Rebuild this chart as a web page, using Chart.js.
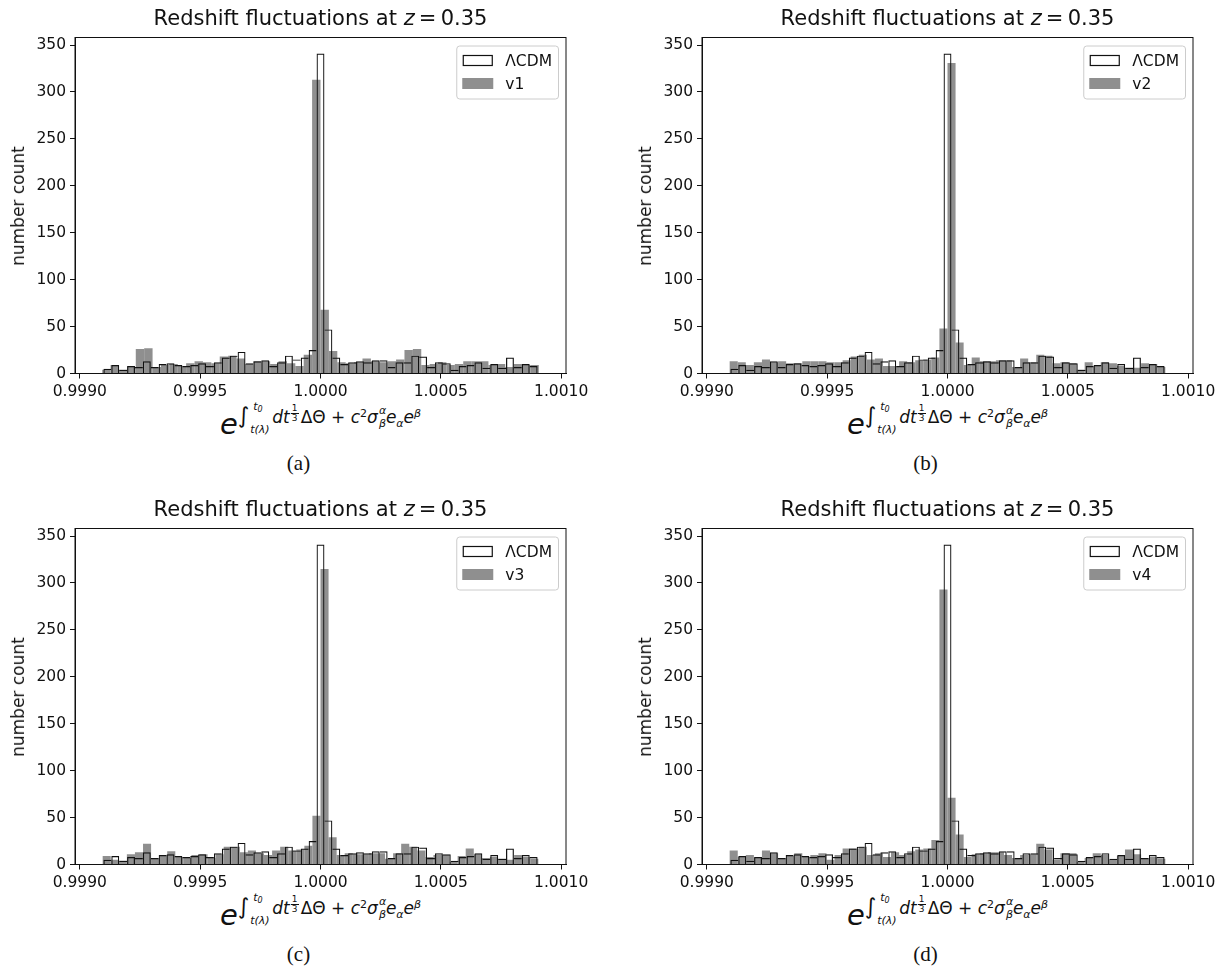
<!DOCTYPE html>
<html>
<head>
<meta charset="utf-8">
<script src="https://cdn.jsdelivr.net/npm/chart.js@4.4.1/dist/chart.umd.min.js"></script>
<style>
    body {
        margin: 0;
        background: #fff;
        width: 1229px;
        height: 968px;
        position: relative;
        overflow: hidden;
        font-family: 'DejaVu Sans', sans-serif;
        color: #111;
    }
    .panel { position: absolute; width: 600px; height: 477px; }
    .panel canvas { position: absolute; left: 0; top: 0; }
    .title {
        position: absolute; left: 75px; width: 491px; top: 5px;
        text-align: center; font-size: 21px; line-height: 26px; white-space: nowrap;
    }
    .ylab {
        position: absolute; left: 18px; top: 205.5px;
        transform: translate(-50%, -50%) rotate(-90deg);
        font-size: 17px; white-space: nowrap;
    }
    .xlab {
        position: absolute; left: 75px; width: 491px; top: 404px;
        text-align: center; white-space: nowrap; font-size: 29px; line-height: 40px;
    }
    .cap {
        position: absolute; left: 0; width: 597px; top: 451px; text-align: center;
        font-family: 'Liberation Serif', serif; font-size: 21px; line-height: 24px;
    }
    .mb { font-style: italic; }
    .mx { font-size: 17px; position: relative; top: -11px; }
    .mi { font-size: 22px; }
    .ml { display: inline-block; position: relative; width: 23px; height: 1px; }
    .ml span { position: absolute; font-size: 11px; line-height: 11px; font-style: italic; white-space: nowrap; }
    .ml .u { left: 4px; top: -21px; }
    .ml .d { left: 1px; top: 2px; }
    .ml sub { font-size: 8px; vertical-align: -2px; }
    .mf { display: inline-block; position: relative; width: 8px; height: 1px; margin: 0 2px 0 1px; }
    .mf span { position: absolute; left: 0; width: 8px; text-align: center; font-size: 9px; line-height: 9px; }
    .mf .n { top: -18px; border-bottom: 1px solid #111; }
    .mf .d { top: -8px; }
    .sp { font-size: 11px; vertical-align: 6px; }
    .sb { font-size: 11px; vertical-align: -4px; }
    .ms { display: inline-block; position: relative; width: 8px; height: 1px; }
    .ms i { position: absolute; left: 1px; font-size: 11px; line-height: 11px; }
    .ms .u { top: -17px; }
    .ms .d { top: -4px; }
</style>
</head>
<body>

<script>

// DATA
const xMin = 0.99898;
const xMax = 1.00102;
const xStep = 0.0005;
const yMax = 358.05;
const yStep = 50;

// LCDM histogram, 55 bins over 1 +/- lcdmHalfRange
const lcdmCounts = [
    5, 9, 4, 8, 7, 13, 7, 10, 11, 9, 8, 9, 11, 8, 12, 17, 19, 23, 11, 13,
    14, 8, 12, 19, 15, 17, 25, 341, 47, 17, 10, 12, 13, 12, 14, 14, 7, 12,
    12, 19, 18, 7, 12, 11, 4, 8, 9, 12, 6, 10, 6, 17, 7, 10, 8
];
const lcdmHalfRange = 0.000902;

const v1Counts = [
    4, 9, 4, 7, 26, 27, 7, 9, 10, 8, 11, 13, 12, 11, 18, 19, 16, 10, 13, 13,
    10, 13, 11, 8, 20, 313, 68, 24, 12, 11, 12, 16, 13, 12, 13, 15, 25, 26,
    9, 10, 12, 9, 10, 13, 13, 13, 9, 10, 7, 10, 9, 9
];

const v2Counts = [
    13, 12, 9, 12, 15, 12, 13, 11, 11, 13, 13, 13, 12, 12, 14, 18, 20, 15,
    16, 8, 8, 13, 12, 14, 15, 17, 48, 331, 33, 9, 17, 13, 13, 14, 14, 7, 16,
    12, 20, 19, 11, 12, 11, 4, 12, 8, 12, 11, 8, 6, 6, 11, 10, 7
];

const v3Counts = [
    9, 5, 4, 11, 13, 22, 7, 10, 14, 8, 7, 10, 11, 7, 11, 19, 19, 13, 15, 12,
    10, 15, 19, 15, 16, 20, 52, 315, 29, 10, 12, 11, 11, 12, 12, 6, 12, 22,
    19, 15, 8, 10, 10, 3, 9, 17, 11, 7, 8, 6, 5, 10, 8, 6
];

const v4Counts = [
    15, 8, 10, 7, 15, 12, 7, 9, 12, 8, 10, 12, 5, 10, 17, 17, 19, 10, 12, 8,
    13, 10, 14, 16, 17, 26, 293, 71, 32, 8, 11, 12, 13, 13, 10, 7, 10, 11,
    22, 16, 5, 12, 12, 3, 7, 12, 10, 5, 9, 16, 11, 6, 8, 6
];

const seriesNames = ['v1', 'v2', 'v3', 'v4'];
const seriesCounts = [v1Counts, v2Counts, v3Counts, v4Counts];
const seriesHalfRanges = [0.000907, 0.000905, 0.000905, 0.000905];
const captions = ['(a)', '(b)', '(c)', '(d)'];


// plot box inside each 600x400 canvas
const plotLeft = 75;
const plotRight = 566;
const plotTop = 37.5;
const plotBottom = 373.5;

// bins of equal width centred on 1
function binPoints(counts, half) {

    const w = 2 * half / counts.length;

    return counts.map((c, i) => ({
        x: 1 - half + (i + 0.5) * w,
        y: c
    }));
}

// bin width converted to pixels of the x scale
function binPixels(counts, half) {

    const w = 2 * half / counts.length;

    return w / (xMax - xMin) * (plotRight - plotLeft);
}

// each shared edge drawn once, by the taller bar
function outlineWidth(counts, bw) {

    return ctx => {

        const i = ctx.dataIndex;
        const last = counts.length - 1;

        return {
            top: bw,
            bottom: 0,
            left: (i === 0 || counts[i] > counts[i - 1]) ? bw : 0,
            right: (i === last || counts[i] >= counts[i + 1]) ? bw : 0
        };
    };
}

const greyFill = 'rgba(128,128,128,0.88)';
const ink = '#111';

// FRAME
const frame = {
    id: 'frame',
    afterDatasetsDraw(chart) {
        const { ctx, chartArea: a } = chart;
        ctx.save();
        ctx.strokeStyle = ink;
        ctx.lineWidth = 1;
        ctx.strokeRect(a.left, a.top, a.right - a.left, a.bottom - a.top);
        ctx.restore();
    }
};

// LEGEND
const legendBox = {
    id: 'legendBox',
    afterDraw(chart) {

        const { ctx, chartArea: a } = chart;
        const sets = chart.data.datasets;

        ctx.save();
        ctx.font = '15.5px "DejaVu Sans"';

        const textW = Math.max(...sets.map(s => ctx.measureText(s.label).width));
        const pad = 6, handle = 31, gap = 12, row = 23;
        const w = pad + handle + gap + textW + pad;
        const h = pad * 2 + row * sets.length - 5;
        const x = a.right - 8 - w;
        const y = a.top + 8;

        ctx.beginPath();
        ctx.roundRect(x + 0.5, y + 0.5, w, h, 3);
        ctx.fillStyle = 'rgba(255,255,255,0.8)';
        ctx.fill();
        ctx.strokeStyle = '#cccccc';
        ctx.lineWidth = 1;
        ctx.stroke();

        sets.forEach((s, i) => {

            const cy = y + pad + 9 + i * row;

            if (s.backgroundColor === 'rgba(0,0,0,0)') {
                ctx.fillStyle = '#fff';
                ctx.fillRect(x + pad + 1, cy - 5, handle - 2, 10);
                ctx.strokeStyle = ink;
                ctx.lineWidth = 1.2;
                ctx.strokeRect(x + pad + 1, cy - 5, handle - 2, 10);
            } else {
                ctx.fillStyle = s.backgroundColor;
                ctx.fillRect(x + pad, cy - 5.5, handle, 11);
            }

            ctx.fillStyle = ink;
            ctx.textBaseline = 'middle';
            ctx.fillText(s.label, x + pad + handle + gap, cy + 1);
        });

        ctx.restore();
    }
};

const xLabelHtml =
    '<span class="mb">e</span><span class="mx">' +
    '<span class="mi">∫</span>' +
    '<span class="ml"><span class="u">t<sub>0</sub></span><span class="d">t(λ)</span></span>' +
    '<i>dt</i>' +
    '<span class="mf"><span class="n">1</span><span class="d">3</span></span>' +
    'ΔΘ + <i>c</i><span class="sp">2</span>' +
    '<i>σ</i><span class="ms"><i class="u">α</i><i class="d">β</i></span>' +
    '<i>e</i><span class="sb"><i>α</i></span>' +
    '<i>e</i><span class="sp"><i>β</i></span>' +
    '</span>';

const panelLeft = [0, 627, 0, 627];
const panelTop = [0, 0, 491, 491];

Chart.defaults.font.family = '"DejaVu Sans"';
Chart.defaults.font.size = 15.5;
Chart.defaults.color = ink;

seriesNames.forEach((name, p) => {

    const div = document.createElement('div');
    div.className = 'panel';
    div.style.left = panelLeft[p] + 'px';
    div.style.top = panelTop[p] + 'px';

    div.innerHTML = `
        <canvas width="600" height="400"></canvas>
        <div class="title">Redshift fluctuations at <i>z</i>&#8201;=&#8201;0.35</div>
        <div class="ylab">number count</div>
        <div class="xlab">${xLabelHtml}</div>
        <div class="cap">${captions[p]}</div>
    `;

    document.body.appendChild(div);

    const axisX = {
        type: 'linear',
        min: xMin,
        max: xMax,
        offset: false
    };

    new Chart(

        div.querySelector('canvas'),

        {
            type: 'bar',

            data: {

                datasets: [
                    {
                        label: 'ΛCDM',
                        data: binPoints(lcdmCounts, lcdmHalfRange),
                        xAxisID: 'x',
                        grouped: false,
                        barThickness: binPixels(lcdmCounts, lcdmHalfRange),
                        backgroundColor: 'rgba(0,0,0,0)',
                        borderColor: ink,
                        borderWidth: outlineWidth(lcdmCounts, 1.2),
                        inflateAmount: 0
                    },
                    {
                        label: name,
                        data: binPoints(seriesCounts[p], seriesHalfRanges[p]),
                        xAxisID: 'x2',
                        grouped: false,
                        barThickness: binPixels(seriesCounts[p], seriesHalfRanges[p]),
                        backgroundColor: greyFill,
                        borderWidth: 0,
                        inflateAmount: 0
                    }
                ]
            },

            options: {

                responsive: false,
                devicePixelRatio: 1,
                animation: false,
                events: [],

                layout: {
                    padding: { top: plotTop, right: 600 - plotRight, bottom: 0, left: 0 }
                },

                plugins: {
                    legend: { display: false },
                    tooltip: { enabled: false }
                },

                scales: {

                    x: {
                        ...axisX,
                        ticks: {
                            stepSize: xStep,
                            includeBounds: false,
                            autoSkip: false,
                            maxRotation: 0,
                            padding: 4,
                            color: ink,
                            callback: v => v.toFixed(4)
                        },
                        grid: {
                            display: true,
                            offset: false,
                            drawOnChartArea: false,
                            drawTicks: true,
                            tickLength: 5,
                            color: ink
                        },
                        border: { display: true, color: ink, width: 1 },
                        afterFit: s => { s.height = 400 - plotBottom; }
                    },

                    x2: {
                        ...axisX,
                        display: false
                    },

                    y: {
                        min: 0,
                        max: yMax,
                        ticks: {
                            stepSize: yStep,
                            includeBounds: false,
                            padding: 4,
                            color: ink
                        },
                        grid: {
                            display: true,
                            drawOnChartArea: false,
                            drawTicks: true,
                            tickLength: 5,
                            color: ink
                        },
                        border: { display: true, color: ink, width: 1 },
                        afterFit: s => { s.width = plotLeft; }
                    }
                }
            },

            plugins: [frame, legendBox]
        }
    );
});

</script>
</body>
</html>
